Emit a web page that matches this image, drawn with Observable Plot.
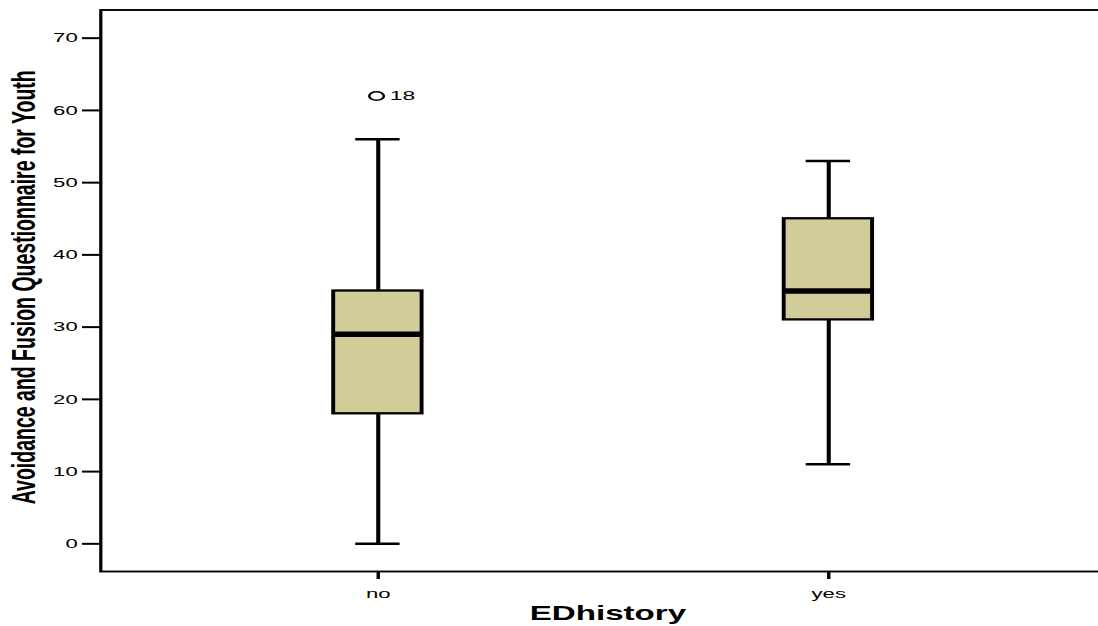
<!DOCTYPE html>
<html>
<head>
<meta charset="utf-8">
<script src="https://cdn.jsdelivr.net/npm/d3@7"></script>
<script src="https://cdn.jsdelivr.net/npm/@observablehq/plot@0.6"></script>
<style>
  html, body { margin: 0; padding: 0; background: white; overflow: hidden; }
</style>
</head>
<body>
<div id="chart"></div>
<script>
// ---- data ----
const groups = ["no", "yes"];
const mins = [0, 11];
const q1s = [18, 31];
const medians = [29, 35];
const q3s = [35, 45];
const maxs = [56, 53];
const outlierGroups = ["no"];
const outlierValues = [62];
const outlierLabels = ["18"];
const yTicks = [0, 10, 20, 30, 40, 50, 60, 70];
const xTitle = "EDhistory";
const yTitle = "Avoidance and Fusion Questionnaire for Youth";

const boxes = groups.map((g, i) => ({group: g, min: mins[i], q1: q1s[i], median: medians[i], q3: q3s[i], max: maxs[i]}));
const outliers = outlierGroups.map((g, i) => ({group: g, value: outlierValues[i], label: outlierLabels[i]}));

// The reference is horizontally stretched (~1.7x); draw at a narrower width then stretch.
const STRETCH = 1.7;
const W0 = 652;
const H = 626;

const chart = Plot.plot({
  width: W0,
  height: H,
  marginLeft: 58.8,
  marginRight: 1.4,
  marginTop: 9.5,
  marginBottom: 55,
  style: {fontFamily: "'Liberation Sans', Arial, sans-serif", fontSize: "13px", background: "white", color: "black"},
  x: {domain: groups, paddingInner: 0.805, paddingOuter: 0.515, align: 0.5, label: null},
  y: {domain: [-3.83, 73.9], label: null},
  marks: [
    Plot.frame({stroke: "black", strokeWidth: 1.9}),
    Plot.axisY({ticks: yTicks, tickSize: 10.6, tickPadding: 3, label: null, fontSize: 13, strokeWidth: 2}),
    Plot.axisX({tickSize: 8, tickPadding: 9, label: null, fontSize: 13, strokeWidth: 2}),
    // whiskers
    Plot.ruleX(boxes, {x: "group", y1: "min", y2: "q1", stroke: "black", strokeWidth: 2.4}),
    Plot.ruleX(boxes, {x: "group", y1: "q3", y2: "max", stroke: "black", strokeWidth: 2.4}),
    Plot.tickY(boxes, {x: "group", y: "min", stroke: "black", strokeWidth: 2.5, insetLeft: 12.95, insetRight: 12.95}),
    Plot.tickY(boxes, {x: "group", y: "max", stroke: "black", strokeWidth: 2.5, insetLeft: 12.95, insetRight: 12.95}),
    // boxes
    Plot.barY(boxes, {x: "group", y1: "q1", y2: "q3", fill: "#D2CD98", stroke: "black", strokeWidth: 2.3}),
    // medians
    Plot.tickY(boxes, {x: "group", y: "median", stroke: "black", strokeWidth: 5.5}),
    // outliers
    Plot.dot(outliers, {x: "group", y: "value", r: 4.3, dx: -1, stroke: "black", strokeWidth: 1.5, fill: "none"}),
    Plot.text(outliers, {x: "group", y: "value", text: "label", dx: 6.8, textAnchor: "start", fontSize: 13.5, fill: "black"}),
    // axis titles
    Plot.text([yTitle], {text: d => d, frameAnchor: "left", dx: -44.8, dy: -3.5, rotate: -90, textAnchor: "middle", lineAnchor: "middle", fontWeight: "bold", fontSize: 19.5, fill: "black"}),
    Plot.text([xTitle], {text: d => d, frameAnchor: "bottom", dx: 2.4, dy: 35, textAnchor: "middle", lineAnchor: "top", fontWeight: "bold", fontSize: 19.5, fill: "black"})
  ]
});

chart.setAttribute("width", (W0 * STRETCH).toFixed(1));
chart.setAttribute("height", H);
chart.setAttribute("preserveAspectRatio", "none");
chart.style.maxWidth = "none";
chart.style.width = (W0 * STRETCH).toFixed(1) + "px";
chart.style.height = H + "px";
document.getElementById("chart").appendChild(chart);
</script>
</body>
</html>
